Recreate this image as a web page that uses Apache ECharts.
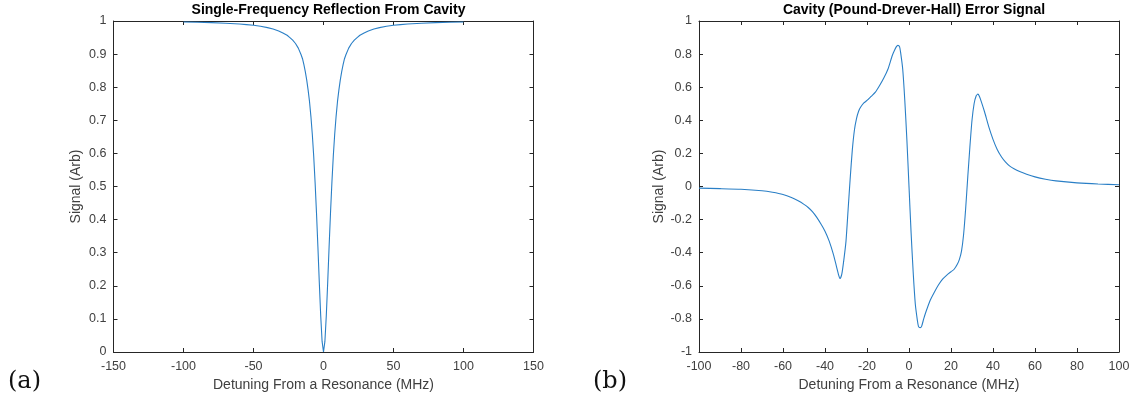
<!DOCTYPE html>
<html>
<head>
<meta charset="utf-8">
<script src="https://cdn.jsdelivr.net/npm/echarts@6/dist/echarts.min.js"></script>
<style>html,body{margin:0;padding:0;background:#fff}#c{width:1134px;height:408px}</style>
</head>
<body>
<div id="c"></div>
<script>
// ---- Data ----
const titles = ['Single-Frequency Reflection From Cavity', 'Cavity (Pound-Drever-Hall) Error Signal'];
const xName = 'Detuning From a Resonance (MHz)';
const yName = 'Signal (Arb)';
const panelLabels = ['(a)', '(b)'];

// Panel (a): reflection
const leftX = [-100,-90,-80,-70,-60,-55,-50,-45,-40,-36,-32,-29,-26,-24,-22,-20,-18,-16,-15,-14,-13,-12,-11,-10,-9,-8,-7,-6,-5,-4,-3,-2,-1,0,
               1,2,3,4,5,6,7,8,9,10,11,12,13,14,15,16,18,20,22,24,26,29,32,36,40,45,50,55,60,70,80,90,100];
const leftY = [0.997,0.996,0.995,0.993,0.991,0.989,0.987,0.984,0.980,0.976,0.970,0.964,0.957,0.950,0.942,0.932,0.918,0.898,0.886,0.868,0.847,0.822,0.792,0.757,0.712,0.658,0.592,0.512,0.420,0.318,0.210,0.110,0.032,0.000,
               0.032,0.110,0.210,0.318,0.420,0.512,0.592,0.658,0.712,0.757,0.792,0.822,0.847,0.868,0.886,0.898,0.918,0.932,0.942,0.950,0.957,0.964,0.970,0.976,0.980,0.984,0.987,0.989,0.991,0.993,0.995,0.996,0.997];

// Panel (b): PDH error signal
const rightX = [-100,-90,-80,-70,-65,-60,-56,-53,-50,-48,-46,-44,-42,-40,-38,-36,-34.5,-33.5,-32.8,-32,-31,-30,-29,-28,-27,-26,-25,-24,-23,-21.5,-20,-18,-16,-14,-12,-10,-8,-7,-6,-5.3,-4.5,-4,-3,-2,-1,0,
                1,2,3,4,4.5,5.3,6,7,8,10,12,14,16,18,20,21.5,23,24,25,26,27,28,29,30,31,32,32.8,33.5,34.5,36,38,40,42,44,46,48,50,53,56,60,65,70,80,90,100];
const rightY = [-0.010,-0.013,-0.017,-0.026,-0.035,-0.048,-0.066,-0.085,-0.108,-0.127,-0.152,-0.185,-0.225,-0.270,-0.330,-0.410,-0.485,-0.535,-0.556,-0.530,-0.440,-0.330,-0.140,0.050,0.220,0.340,0.410,0.455,0.480,0.505,0.520,0.545,0.570,0.610,0.655,0.710,0.790,0.820,0.845,0.853,0.845,0.810,0.710,0.520,0.280,0.000,
                -0.280,-0.520,-0.710,-0.810,-0.845,-0.853,-0.845,-0.800,-0.760,-0.690,-0.640,-0.595,-0.560,-0.535,-0.515,-0.500,-0.470,-0.440,-0.390,-0.290,-0.130,0.060,0.240,0.400,0.500,0.548,0.558,0.545,0.510,0.450,0.360,0.285,0.224,0.180,0.147,0.123,0.107,0.089,0.074,0.058,0.044,0.034,0.022,0.015,0.011];

// Axis ranges / tick steps
const leftXRange = [-150, 150, 50];
const leftYRange = [0, 1, 0.1];
const rightXRange = [-100, 100, 20];
const rightYRange = [-1, 1, 0.2];

// ---- Chart ----
const FONT = 'Liberation Sans, Arial, Helvetica, sans-serif';
const AX = '#262626';
const LAB = '#404040';
const LINE = '#2a7fc6';
const grids = [
  {left: 113.5, top: 21, width: 420, height: 331},
  {left: 699, top: 21, width: 420, height: 331}
];
function pairs(xs, ys){ return xs.map((x,i)=>[x, ys[i]]); }

function xAxes(gi, r){
  return [
    {type:'value', gridIndex:gi, position:'bottom', min:r[0], max:r[1], interval:r[2],
     name:xName, nameLocation:'middle', nameGap:25,
     nameTextStyle:{fontFamily:FONT, fontSize:14, color:LAB},
     axisLine:{onZero:false, lineStyle:{color:AX, width:1}},
     axisTick:{inside:true, length:4, lineStyle:{color:AX}},
     axisLabel:{margin:8, fontFamily:FONT, fontSize:12.5, color:LAB},
     splitLine:{show:false}},
    {type:'value', gridIndex:gi, position:'top', min:r[0], max:r[1], interval:r[2],
     axisLine:{onZero:false, lineStyle:{color:AX, width:1}},
     axisTick:{inside:true, length:4, lineStyle:{color:AX}},
     axisLabel:{show:false}, splitLine:{show:false}}
  ];
}
function yAxes(gi, r){
  return [
    {type:'value', gridIndex:gi, position:'left', min:r[0], max:r[1], interval:r[2],
     name:yName, nameLocation:'middle', nameGap:30, nameRotate:90,
     nameTextStyle:{fontFamily:FONT, fontSize:14, color:LAB},
     axisLine:{onZero:false, lineStyle:{color:AX, width:1}},
     axisTick:{inside:true, length:4, lineStyle:{color:AX}},
     axisLabel:{margin:7, fontFamily:FONT, fontSize:12.5, color:LAB},
     splitLine:{show:false}},
    {type:'value', gridIndex:gi, position:'right', min:r[0], max:r[1], interval:r[2],
     axisLine:{onZero:false, lineStyle:{color:AX, width:1}},
     axisTick:{inside:true, length:4, lineStyle:{color:AX}},
     axisLabel:{show:false}, splitLine:{show:false}}
  ];
}

const chart = echarts.init(document.getElementById('c'), null, {renderer:'canvas'});
chart.setOption({
  animation:false,
  backgroundColor:'#fff',
  title: titles.map((t,i)=>({
    text:t, left: grids[i].left + grids[i].width/2, top:-2, textAlign:'center',
    textStyle:{fontFamily:FONT, fontSize:14, fontWeight:'bold', color:'#000'}
  })),
  grid: grids,
  xAxis: [...xAxes(0, leftXRange), ...xAxes(1, rightXRange)],
  yAxis: [...yAxes(0, leftYRange), ...yAxes(1, rightYRange)],
  series: [
    {type:'line', xAxisIndex:0, yAxisIndex:0, data:pairs(leftX, leftY), showSymbol:false, smooth:false,
     lineStyle:{color:LINE, width:1.1}},
    {type:'line', xAxisIndex:2, yAxisIndex:2, data:pairs(rightX, rightY), showSymbol:false, smooth:0.2,
     lineStyle:{color:LINE, width:1.1}}
  ],
  graphic: [
    {type:'text', left:8, top:370, style:{text:panelLabels[0], font:'24px "DejaVu Serif"', fill:'#111'}},
    {type:'text', left:593, top:370, style:{text:panelLabels[1], font:'24px "DejaVu Serif"', fill:'#111'}}
  ]
});
</script>
</body>
</html>
